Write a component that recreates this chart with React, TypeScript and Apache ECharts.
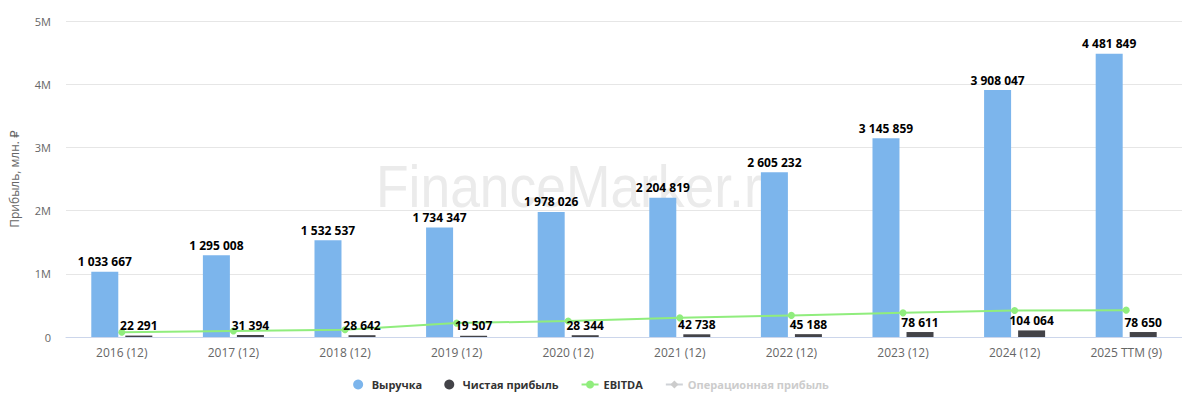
import React, { useEffect, useRef } from "react";
import * as echarts from "echarts";

const categories = [
  "2016 (12)", "2017 (12)", "2018 (12)", "2019 (12)", "2020 (12)",
  "2021 (12)", "2022 (12)", "2023 (12)", "2024 (12)", "2025 TTM (9)",
];
const revenue = [1033667, 1295008, 1532537, 1734347, 1978026, 2204819, 2605232, 3145859, 3908047, 4481849];
const netProfit = [22291, 31394, 28642, 19507, 28344, 42738, 45188, 78611, 104064, 78650];
const ebitda = [74000, 95000, 116000, 220000, 253000, 303000, 342000, 382000, 418000, 425000];
const operatingProfit: number[] = [];
const yTicks = [0, 1000000, 2000000, 3000000, 4000000, 5000000];

const FONT = "'Open Sans', 'DejaVu Sans', sans-serif";
const fmt = (v: number) => String(Math.round(v)).replace(/\B(?=(\d{3})+(?!\d))/g, " ");

export default function App() {
  const ref = useRef<HTMLDivElement>(null);
  useEffect(() => {
    if (!ref.current) return;
    const chart = echarts.init(ref.current, undefined, { renderer: "svg" });
    const labelStyle = {
      show: true,
      position: "top" as const,
      distance: 4,
      formatter: (p: any) => fmt(p.value),
      fontFamily: FONT,
      fontSize: 12,
      fontWeight: "bold" as const,
      color: "#000",
    };
    chart.setOption({
      animation: false,
      textStyle: { fontFamily: FONT },
      graphic: [
        {
          type: "text",
          left: 376,
          top: 156,
          z: 0,
          silent: true,
          scaleX: 0.89,
          style: {
            text: "FinanceMarker.ru",
            fontFamily: "'Liberation Sans', Arial, sans-serif",
            fontSize: 60,
            fill: "#ebebeb",
          },
        },
      ],
      grid: { left: 57, right: -4, top: 21, bottom: 61, containLabel: false },
      legend: {
        bottom: 3,
        left: "center",
        itemWidth: 17,
        itemHeight: 10,
        itemGap: 22,
        textStyle: { fontFamily: FONT, fontSize: 11, fontWeight: "bold", color: "#333" },
        inactiveColor: "#cccccc",
        data: [
          { name: "Выручка", icon: "circle" },
          { name: "Чистая прибыль", icon: "circle" },
          { name: "EBITDA" },
          { name: "Операционная прибыль" },
        ],
        selected: { "Операционная прибыль": false },
      },
      xAxis: {
        type: "category",
        data: categories,
        axisLine: { lineStyle: { color: "#ccd6eb" } },
        axisTick: { show: false },
        axisLabel: { color: "#666", fontSize: 12, margin: 9, fontFamily: FONT },
      },
      yAxis: {
        type: "value",
        min: yTicks[0],
        max: yTicks[yTicks.length - 1],
        interval: yTicks[1] - yTicks[0],
        name: "Прибыль, млн. ₽",
        nameLocation: "middle",
        nameGap: 46,
        nameTextStyle: { color: "#666", fontSize: 12, fontFamily: FONT },
        axisLabel: {
          color: "#666",
          fontSize: 11,
          margin: 15,
          fontFamily: FONT,
          formatter: (v: number) => (v === 0 ? "0" : v / 1000000 + "M"),
        },
        splitLine: { lineStyle: { color: "#e6e6e6" } },
        axisLine: { show: false },
        axisTick: { show: false },
      },
      series: [
        {
          name: "Выручка",
          type: "bar",
          data: revenue,
          barWidth: 27,
          barGap: "26%",
          itemStyle: { color: "#7cb5ec" },
          label: labelStyle,
          z: 2,
        },
        {
          name: "Чистая прибыль",
          type: "bar",
          data: netProfit,
          barWidth: 27,
          itemStyle: { color: "#434348" },
          label: labelStyle,
          z: 4,
        },
        {
          name: "EBITDA",
          type: "line",
          data: ebitda,
          symbol: "circle",
          symbolSize: 7,
          lineStyle: { color: "#90ed7d", width: 2 },
          itemStyle: { color: "#90ed7d" },
          z: 3,
        },
        {
          name: "Операционная прибыль",
          type: "line",
          data: operatingProfit,
          symbol: "diamond",
          symbolSize: 7,
          lineStyle: { color: "#f7a35c", width: 2 },
          itemStyle: { color: "#f7a35c" },
        },
      ],
    });
    return () => chart.dispose();
  }, []);
  return (
    <div
      ref={ref}
      style={{ position: "fixed", left: 0, top: 0, width: 1182, height: 398, background: "#fff" }}
    />
  );
}
